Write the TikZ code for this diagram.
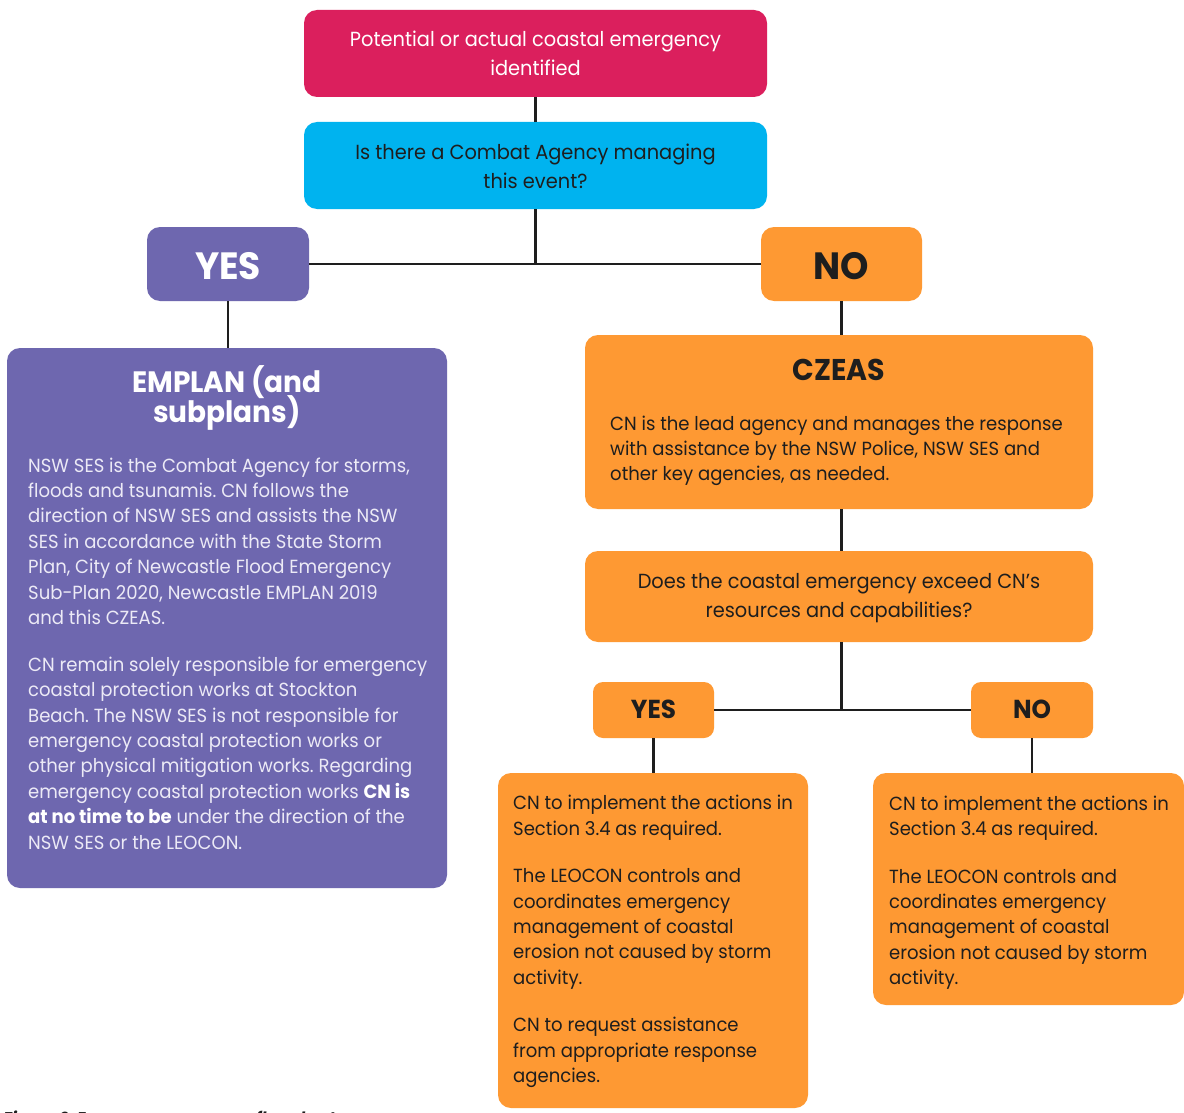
\documentclass[tikz,border=0pt]{standalone}
\usepackage{fontspec}
\setmainfont{Poppins}[FakeStretch=0.95]
\frenchspacing
\definecolor{cred}{RGB}{219,31,93}
\definecolor{cblue}{RGB}{0,179,239}
\definecolor{cpurple}{RGB}{110,103,175}
\definecolor{corange}{RGB}{254,153,51}
\definecolor{cdark}{RGB}{30,30,30}
\definecolor{clav}{RGB}{236,234,246}
\newcommand{\fsz}[2]{\fontsize{#1}{#2}\selectfont\lineskiplimit=-100pt\relax}
\begin{document}
\begin{tikzpicture}[x=1pt,y=-1pt,
  box/.style={draw=none, rounded corners=13pt, inner sep=0pt},
  conn/.style={line width=2.6pt, cdark},
  body/.style={inner sep=0pt, align=left, font=\fsz{19}{25.4}},
  ctext/.style={inner sep=0pt, align=center, font=\fsz{20.4}{29}}]
\useasboundingbox (0,0) rectangle (1184,1113);
\clip (0,0) rectangle (1184,1113);
\fill[white] (0,0) rectangle (1184,1113);

% boxes
\node[box, fill=cred, minimum width=463pt, minimum height=87pt] (start) at (535.5,53.5) {};
\node[box, fill=cblue, minimum width=463pt, minimum height=87pt] (q) at (535.5,165.5) {};
\node[box, fill=cpurple, minimum width=162pt, minimum height=74pt] (yes) at (228,264) {};
\node[box, fill=corange, minimum width=161pt, minimum height=74pt] (no) at (841.5,264) {};
\node[box, fill=cpurple, minimum width=440pt, minimum height=540pt] (emplan) at (227,618) {};
\node[box, fill=corange, minimum width=508pt, minimum height=174pt] (czeas) at (839,422) {};
\node[box, fill=corange, minimum width=508pt, minimum height=91pt] (does) at (839,596.5) {};
\node[box, fill=corange, rounded corners=10pt, minimum width=121pt, minimum height=56pt] (yes2) at (653.5,710) {};
\node[box, fill=corange, rounded corners=10pt, minimum width=122pt, minimum height=56pt] (no2) at (1032,710) {};
\node[box, fill=corange, minimum width=310pt, minimum height=335pt] (boxl) at (653,940.5) {};
\node[box, fill=corange, minimum width=311pt, minimum height=232pt] (boxr) at (1028.5,889) {};

% connectors
\draw[conn] (start.south) -- (q.north);
\draw[conn] (q.south) |- (yes.east);
\draw[conn] (q.south) |- (no.west);
\draw[conn] (yes.south) -- (yes.south |- emplan.north);
\draw[conn] (no.south) -- (no.south |- czeas.north);
\draw[conn] (no.south |- czeas.south) -- (no.south |- does.north);
\draw[conn] (no.south |- does.south) |- (yes2.east);
\draw[conn] (no.south |- does.south) |- (no2.west);
\draw[conn] (yes2.south) -- (yes2.south |- boxl.north);
\draw[conn] (no2.south) -- (no2.south |- boxr.north);

% texts (base anchor = baseline of last line)
\node[ctext, white, anchor=base] (t1) at (535.5,76) {Potential or actual coastal emergency\\identified};
\node[ctext, cdark, anchor=base] (t2) at (535.5,189) {Is there a Combat Agency managing\\this event?};
\node[inner sep=0pt, white, font=\fsz{38}{40}\bfseries, anchor=base] (t3) at (228,279) {YES};
\node[inner sep=0pt, cdark, font=\fsz{38}{40}\bfseries, anchor=base] (t4) at (841.5,279) {NO};
\node[inner sep=0pt, white, align=center, font=\fsz{29.5}{30.5}\bfseries, anchor=base] (t5) at (227,422.5) {EMPLAN (and\\subplans)};
\node[body, clav, anchor=base west] (t6) at (28,624.4) {NSW SES is the Combat Agency for storms,\\floods and tsunamis. CN follows the\\direction of NSW SES and assists the NSW\\SES in accordance with the State Storm\\Plan, City of Newcastle Flood Emergency\\Sub-Plan 2020, Newcastle EMPLAN 2019\\and this CZEAS.};
\node[body, clav, anchor=base west] (t7) at (28,849) {CN remain solely responsible for emergency\\coastal protection works at Stockton\\Beach. The NSW SES is not responsible for\\emergency coastal protection works or\\other physical mitigation works. Regarding\\emergency coastal protection works \textbf{\color{white}CN is}\\\textbf{\color{white}at no time to be} under the direction of the\\NSW SES or the LEOCON.};
\node[inner sep=0pt, cdark, font=\fsz{30}{30}\bfseries, anchor=base] (t8) at (839,380) {CZEAS};
\node[body, cdark, anchor=base west] (t9) at (610,480.8) {CN is the lead agency and manages the response\\with assistance by the NSW Police, NSW SES and\\other key agencies, as needed.};
\node[ctext, cdark, anchor=base] (t10) at (839,617) {Does the coastal emergency exceed CN’s\\resources and capabilities?};
\node[inner sep=0pt, cdark, font=\fsz{26}{28}\bfseries, anchor=base] (t11) at (653.5,718) {YES};
\node[inner sep=0pt, cdark, font=\fsz{26}{28}\bfseries, anchor=base] (t12) at (1032,718) {NO};
\node[body, cdark, anchor=base west] (t13) at (513,1082.6) {CN to implement the actions in\\Section 3.4 as required.\\[22.2pt]The LEOCON controls and\\coordinates emergency\\management of coastal\\erosion not caused by storm\\activity.\\[22.2pt]CN to request assistance\\from appropriate response\\agencies.};
\node[body, cdark, anchor=base west] (t14) at (889,984.6) {CN to implement the actions in\\Section 3.4 as required.\\[22.2pt]The LEOCON controls and\\coordinates emergency\\management of coastal\\erosion not caused by storm\\activity.};
\node[inner sep=0pt, cdark, font=\fsz{17}{20}\bfseries\itshape, anchor=base west] (cap) at (3,1124) {Figure 2: Emergency response flowchart};
\end{tikzpicture}
\end{document}
